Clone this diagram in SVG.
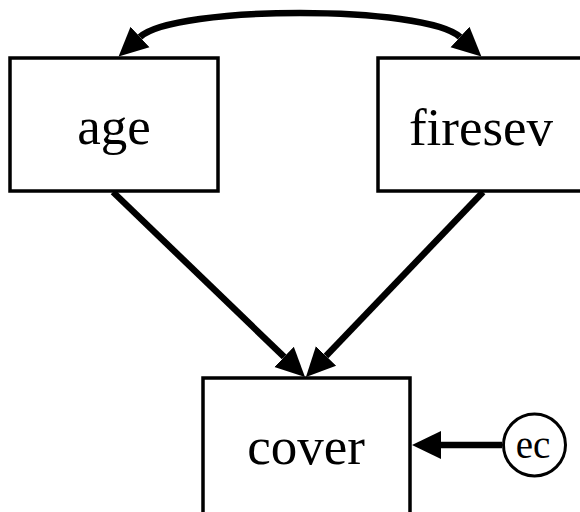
<svg xmlns="http://www.w3.org/2000/svg" width="580" height="512" viewBox="0 0 580 512">
<style>
.box{fill:#fff;stroke:#000;stroke-width:3.5}
.lbl{font-family:"Liberation Serif","Times New Roman",serif;font-size:53px;text-anchor:middle;fill:#000}
.small{font-family:"Liberation Serif","Times New Roman",serif;font-size:39px;text-anchor:middle;fill:#000}
.edge{fill:none;stroke:#000;stroke-width:6.5}
</style>
<defs>
<marker id="ah" markerUnits="userSpaceOnUse" markerWidth="32" markerHeight="32" viewBox="0 -16 32 32" refX="0" refY="0" orient="auto-start-reverse">
<path d="M0,-14 L29,0 L0,14 z" fill="#000"/>
</marker>
</defs>
<rect width="580" height="512" fill="#fff"/>
<g id="connectors">
<path class="edge" d="M140,37 C175,5 425,5 460,37" marker-start="url(#ah)" marker-end="url(#ah)"/>
<path class="edge" d="M113,192 L284.1,356.9" marker-end="url(#ah)"/>
<path class="edge" d="M483,192 L326,356" marker-end="url(#ah)"/>
<path class="edge" d="M502,445 L441,445" marker-end="url(#ah)"/>
</g>
<g id="age">
<rect class="box" x="10" y="58" width="208" height="133"/>
<text class="lbl" x="114" y="144">age</text>
</g>
<g id="firesev">
<rect class="box" x="378" y="58" width="210" height="133"/>
<text class="lbl" x="481" y="145">firesev</text>
</g>
<g id="cover">
<rect class="box" x="203" y="378" width="207" height="140"/>
<text class="lbl" x="306" y="464">cover</text>
</g>
<g id="ec">
<circle cx="534.5" cy="445" r="31" fill="#fff" stroke="#000" stroke-width="3"/>
<text class="small" x="533" y="458">ec</text>
</g>
</svg>
